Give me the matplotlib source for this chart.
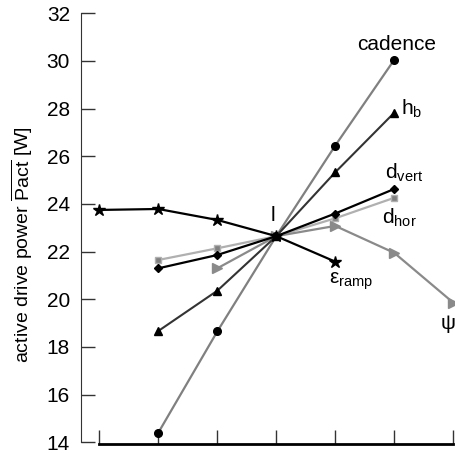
import numpy as np
import matplotlib
matplotlib.use('Agg')
import matplotlib.pyplot as plt

plt.rcParams['font.family'] = ['Liberation Sans', 'DejaVu Sans']
plt.rcParams['mathtext.fontset'] = 'custom'
plt.rcParams['mathtext.rm'] = 'Liberation Sans'
plt.rcParams['mathtext.it'] = 'Liberation Sans:italic'

# parameter steps (x positions) and active drive power values
x_cad = [1, 2, 3, 4, 5]
cadence = [14.4, 18.65, 22.65, 26.45, 30.05]
x_hb = [1, 2, 3, 4, 5]
h_b = [18.67, 20.36, 22.65, 25.33, 27.83]
x_dvert = [1, 2, 3, 4, 5]
d_vert = [21.3, 21.86, 22.65, 23.6, 24.63]
x_dhor = [1, 2, 3, 4, 5]
d_hor = [21.65, 22.14, 22.65, 23.4, 24.26]
x_ramp = [0, 1, 2, 3, 4]
eps_ramp = [23.75, 23.79, 23.33, 22.65, 21.58]
x_psi = [2, 3, 4, 5, 6]
psi = [21.3, 22.65, 23.08, 21.95, 19.86]

fig = plt.figure(figsize=(4.55, 4.53), dpi=100)
ax = fig.add_axes([81/455, 0.0199, 1 - 81/455, 0.9507])

ax.plot(x_dhor, d_hor, color='#b0b0b0', lw=1.6, marker='s', ms=5,
        mfc='#808080', mec='#b0b0b0', zorder=2)
ax.plot(x_psi, psi, color='#8a8a8a', lw=1.6, marker='>', ms=7,
        mfc='#8a8a8a', mec='#8a8a8a', zorder=2)
ax.plot(x_cad, cadence, color='#808080', lw=1.6, marker='o', ms=5.5,
        mfc='black', mec='black', zorder=3)
ax.plot(x_hb, h_b, color='#333333', lw=1.5, marker='^', ms=6,
        mfc='black', mec='black', zorder=3)
ax.plot(x_dvert, d_vert, color='black', lw=1.6, marker='D', ms=4.5,
        mfc='black', mec='black', zorder=4)
ax.plot(x_ramp, eps_ramp, color='black', lw=1.6, marker='*', ms=9,
        mfc='black', mec='black', zorder=4)

fs = 15
ax.text(5.04, 30.7, 'cadence', fontsize=fs, ha='center', va='center')
ax.text(5.12, 28.0, r'h$_\mathrm{b}$', fontsize=fs, ha='left', va='center')
ax.text(4.84, 25.3, r'd$_\mathrm{vert}$', fontsize=fs, ha='left', va='center')
ax.text(4.80, 23.4, r'd$_\mathrm{hor}$', fontsize=fs, ha='left', va='center')
ax.text(3.9, 20.75, r'ε$_\mathrm{ramp}$', fontsize=fs, ha='left', va='center')
ax.text(6.03, 19.0, 'ψ', fontsize=fs, ha='right', va='center')
ax.text(2.94, 23.5, 'l', fontsize=fs, ha='center', va='center')

ax.set_xlim(-0.31, 6.03)
ax.set_ylim(13.93, 32)
ax.set_yticks(np.arange(14, 33, 2))
ax.set_xticks(np.arange(0, 7, 1))
ax.set_xticklabels([])
ax.tick_params(axis='both', direction='in', length=10, width=1, labelsize=fs, color='#333333')
ax.tick_params(axis='y', pad=8)

for s in ['top', 'right']:
    ax.spines[s].set_visible(False)
ax.spines['left'].set_bounds(14, 32)
ax.spines['left'].set_color('#333333')
ax.spines['bottom'].set_bounds(0, 6)
ax.spines['bottom'].set_linewidth(2)

ax.set_ylabel(r'active drive power $\overline{\mathrm{Pact}}$ [W]', fontsize=14)
ax.yaxis.set_label_coords(-0.123, 0.463)

fig.savefig('out.png', dpi=100)
